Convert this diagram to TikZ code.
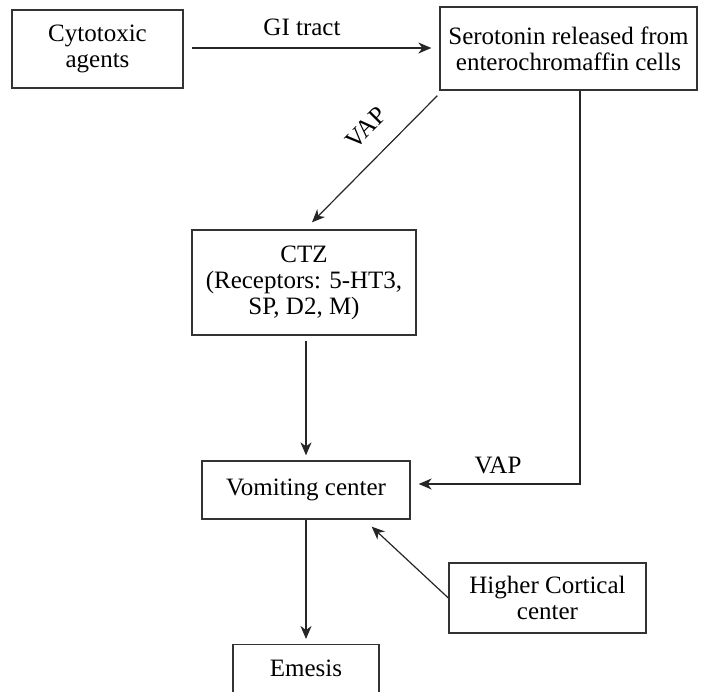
\documentclass[tikz,border=0pt]{standalone}
\usepackage{fontspec}
\setmainfont{Liberation Serif}
\usetikzlibrary{arrows.meta}
\begin{document}
\begin{tikzpicture}[x=1pt,y=1pt,
  box/.style={draw=black!80, line width=1.3pt, rectangle, inner sep=0pt, align=center,
    font=\fontsize{25}{26}\selectfont},
  lbl/.style={inner sep=0pt, font=\fontsize{25}{26}\selectfont},
  arr/.style={draw=black!85, line width=1.2pt, -{Stealth[length=13pt,width=11pt,inset=4pt]}}]
\useasboundingbox (0,0) rectangle (701,-692);
\node[box, minimum width=171pt, minimum height=78pt] (cyto) at (97.5,-49) {Cytotoxic\\agents};
\node[box, minimum width=257pt, minimum height=83pt] (sero) at (568.5,-48.5) {Serotonin released from\\enterochromaffin cells};
\node[box, minimum width=224pt, minimum height=105pt] (ctz) at (304,-282.5) {CTZ\\(Receptors: 5-HT3,\\SP, D2, M)};
\node[box, minimum width=208pt, minimum height=58pt] (vomit) at (306,-490) {Vomiting center};
\node[box, minimum width=197pt, minimum height=70pt] (higher) at (547.5,-598) {Higher Cortical\\center};
\node[box, anchor=north, minimum width=146pt, text height=32pt, text depth=60pt] (emesis) at (306,-644) {Emesis};

\draw[arr] ([xshift=8pt,yshift=1pt]cyto.east) -- ([xshift=-8pt,yshift=0.5pt]sero.west);
\node[lbl] (gi) at (302,-27) {GI tract};

\draw[arr] ([shift={(-2pt,-5pt)}]sero.south west) -- ([shift={(8pt,7pt)}]ctz.north);
\node[lbl, rotate=45] (vap1) at (366,-128) {VAP};

\draw[arr] ([xshift=11.5pt]sero.south) |- ([xshift=8pt,yshift=6pt]vomit.east);
\node[lbl] (vap2) at (498,-465) {VAP};

\draw[arr] ([yshift=-5pt]ctz.south -| vomit.north) -- ([yshift=5pt]vomit.north);
\draw[arr] (vomit.south) -- ([yshift=5pt]emesis.north);
\draw[arr] (higher.west) -- ([shift={(-39pt,-7pt)}]vomit.south east);
\end{tikzpicture}
\end{document}
